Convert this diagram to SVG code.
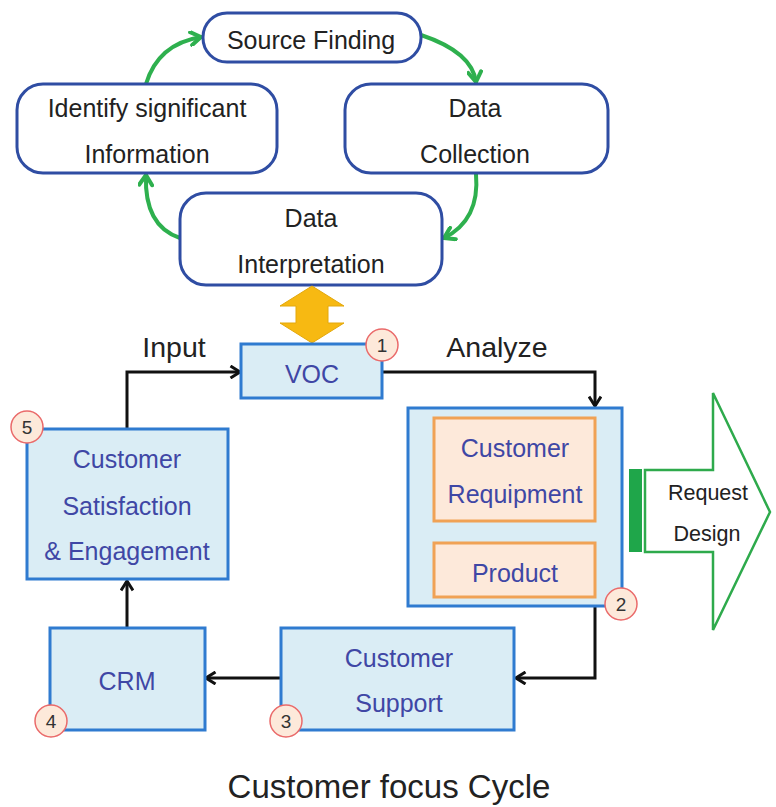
<svg xmlns="http://www.w3.org/2000/svg" width="776" height="807" viewBox="0 0 776 807">
  <style>
    .top { fill: #ffffff; stroke: #2f4da3; stroke-width: 3; }
    .box { fill: #daedf5; stroke: #2f7bd0; stroke-width: 3; }
    .inner { fill: #fde9da; stroke: #f0a255; stroke-width: 3; }
    .badge { fill: #fde9da; stroke: #ea6a6a; stroke-width: 1.5; }
    .t { font-family: "Liberation Sans", Arial, sans-serif; text-anchor: middle; }
    .dark { fill: #222222; font-size: 25px; }
    .blue { fill: #3f47a5; font-size: 25px; }
    .lbl { fill: #222222; font-size: 28.5px; }
    .num { fill: #333333; font-size: 19px; }
    .flow { fill: none; stroke: #111111; stroke-width: 3; }
    .cyc { fill: none; stroke: #2eb04e; stroke-width: 4; stroke-linecap: round; }
  </style>
  <defs>
    <marker id="chev" viewBox="0 0 14 14" refX="12.5" refY="7" markerWidth="14" markerHeight="14" markerUnits="userSpaceOnUse" orient="auto">
      <path d="M3,1 L12.5,7 L3,13" fill="none" stroke="#111111" stroke-width="3"/>
    </marker>
    <marker id="gchev" viewBox="0 0 16 16" refX="13" refY="8" markerWidth="16" markerHeight="16" markerUnits="userSpaceOnUse" orient="auto">
      <path d="M3,1.5 L13,8 L3,14.5" fill="none" stroke="#2eb04e" stroke-width="4" stroke-linecap="round" stroke-linejoin="round"/>
    </marker>
  </defs>

  <!-- information cycle connectors -->
  <g id="cycle-connectors">
    <path class="cyc" d="M146,84 Q158,44 201,37" marker-end="url(#gchev)"/>
    <path class="cyc" d="M421,35 Q472,52 476,82" marker-end="url(#gchev)"/>
    <path class="cyc" d="M476,174 Q480,220 444,238" marker-end="url(#gchev)"/>
    <path class="cyc" d="M180,238 Q144,226 146,175" marker-end="url(#gchev)"/>
  </g>

  <g id="source-finding">
    <rect class="top" x="203" y="13" width="218" height="49" rx="24"/>
    <text class="t dark" x="311" y="49">Source Finding</text>
  </g>
  <g id="identify">
    <rect class="top" x="17" y="84" width="260" height="89" rx="26"/>
    <text class="t dark" x="147" y="117">Identify significant</text>
    <text class="t dark" x="147" y="163">Information</text>
  </g>
  <g id="data-collection">
    <rect class="top" x="345" y="84" width="263" height="89" rx="26"/>
    <text class="t dark" x="475" y="117">Data</text>
    <text class="t dark" x="475" y="163">Collection</text>
  </g>
  <g id="data-interpretation">
    <rect class="top" x="180" y="193" width="262" height="92" rx="26"/>
    <text class="t dark" x="311" y="227">Data</text>
    <text class="t dark" x="311" y="273">Interpretation</text>
  </g>

  <!-- two-way link between interpretation and VOC -->
  <g id="exchange">
    <polygon points="312,286 344,306 328,306 328,323 344,323 312,343 280,323 296,323 296,306 280,306" fill="#f7b912" stroke="#e3a80c" stroke-width="1"/>
  </g>

  <!-- focus cycle connectors -->
  <g id="connectors">
    <path class="flow" d="M127,428 V372 H240" marker-end="url(#chev)"/>
    <path class="flow" d="M382,372 H595 V406" marker-end="url(#chev)"/>
    <path class="flow" d="M514,521 V542" marker-end="url(#chev)"/>
    <path class="flow" d="M595,606 V678 H516" marker-end="url(#chev)"/>
    <path class="flow" d="M281,678 H206" marker-end="url(#chev)"/>
    <path class="flow" d="M127,628 V581" marker-end="url(#chev)"/>
  </g>

  <text class="t lbl" x="174" y="357">Input</text>
  <text class="t lbl" x="497" y="357">Analyze</text>

  <g id="voc">
    <rect class="box" x="241" y="344" width="141" height="54"/>
    <text class="t blue" x="312" y="383">VOC</text>
    <circle class="badge" cx="382" cy="345" r="16"/>
    <text class="t num" x="382" y="352">1</text>
  </g>

  <g id="analysis">
    <rect class="box" x="408" y="408" width="214" height="198"/>
    <circle class="badge" cx="621" cy="604" r="16"/>
    <text class="t num" x="621" y="611">2</text>
  </g>
  <g id="requirement">
    <rect class="inner" x="434" y="418" width="161" height="103"/>
    <text class="t blue" x="515" y="457">Customer</text>
    <text class="t blue" x="515" y="503">Requipment</text>
  </g>
  <g id="product">
    <rect class="inner" x="434" y="543" width="161" height="54"/>
    <text class="t blue" x="515" y="582">Product</text>
  </g>

  <g id="request-design">
    <rect x="629" y="469" width="13" height="83" fill="#1fa64a"/>
    <polygon points="645,470 713,470 713,393 770,512 713,630 713,552 645,552" fill="#ffffff" stroke="#2eaa4c" stroke-width="2.5"/>
    <text class="t" x="708" y="500" font-size="21.5" fill="#222222">Request</text>
    <text class="t" x="707" y="541" font-size="21.5" fill="#222222">Design</text>
  </g>

  <g id="customer-support">
    <rect class="box" x="281" y="628" width="233" height="102"/>
    <text class="t blue" x="399" y="667">Customer</text>
    <text class="t blue" x="399" y="712">Support</text>
    <circle class="badge" cx="286" cy="721" r="16"/>
    <text class="t num" x="286" y="728">3</text>
  </g>

  <g id="crm">
    <rect class="box" x="50" y="628" width="155" height="102"/>
    <text class="t blue" x="127" y="690">CRM</text>
    <circle class="badge" cx="51" cy="721" r="16"/>
    <text class="t num" x="51" y="728">4</text>
  </g>

  <g id="satisfaction">
    <rect class="box" x="27" y="429" width="201" height="150"/>
    <text class="t blue" x="127" y="468">Customer</text>
    <text class="t blue" x="127" y="515">Satisfaction</text>
    <text class="t blue" x="127" y="560">&amp; Engagement</text>
    <circle class="badge" cx="27" cy="427" r="16"/>
    <text class="t num" x="27" y="434">5</text>
  </g>

  <text class="t" x="389" y="798" font-size="33" fill="#222222">Customer focus Cycle</text>
</svg>
